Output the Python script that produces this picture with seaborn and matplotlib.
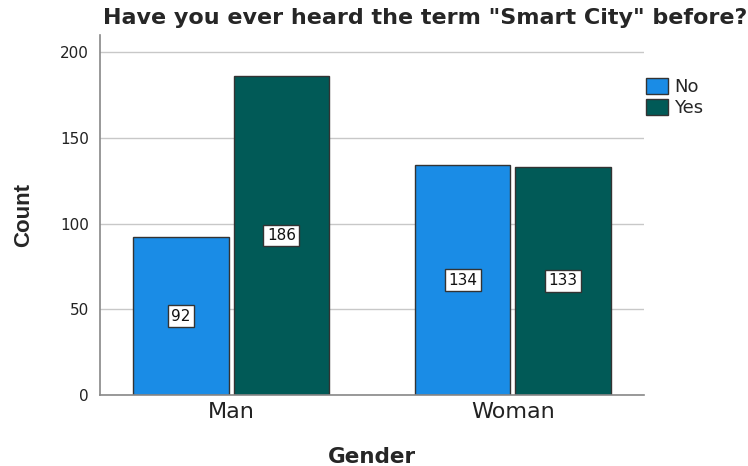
import seaborn as sns
import matplotlib.pyplot as plt
import pandas as pd

genders = ['Man', 'Man', 'Woman', 'Woman']
answers = ['No', 'Yes', 'No', 'Yes']
counts = [92, 186, 134, 133]

df = pd.DataFrame({'Gender': genders, 'Answer': answers, 'Count': counts})

sns.set_style('white')
plt.rcParams['font.family'] = ['DejaVu Sans']

fig = plt.figure(figsize=(7.48, 4.66), dpi=100)
ax = fig.add_axes([0.1337, 0.1524, 0.7273, 0.7725])

palette = {'No': '#1a8ce6', 'Yes': '#015a57'}
sns.barplot(data=df, x='Gender', y='Count', hue='Answer', palette=palette,
            width=0.713, gap=0.05, edgecolor='#333333', linewidth=1,
            saturation=1, ax=ax, legend=True)

ax.set_xlim(-0.465, 1.465)
ax.set_ylim(0, 210)
ax.set_yticks([0, 50, 100, 150, 200])
ax.yaxis.grid(True, color='#c8c8c8', linewidth=1)
ax.set_axisbelow(True)
for side in ['top', 'right']:
    ax.spines[side].set_visible(False)
for side in ['left', 'bottom']:
    ax.spines[side].set_color('#888888')
    ax.spines[side].set_linewidth(1.2)
ax.tick_params(axis='y', length=0, labelsize=11, labelcolor='#222222', pad=8)
ax.tick_params(axis='x', length=0, labelsize=16, labelcolor='#222222', pad=5)

ax.set_xlabel('Gender', fontsize=15.5, fontweight='bold', labelpad=18)
ax.set_ylabel('Count', fontsize=16, fontweight='bold', labelpad=19,
              family=['Liberation Sans'])

for cont in ax.containers:
    for bar in cont:
        h = bar.get_height()
        ax.text(bar.get_x() + bar.get_width() / 2, h / 2, f'{int(h)}',
                ha='center', va='center', fontsize=11, color='#111111',
                bbox=dict(boxstyle='square,pad=0.22', facecolor='white',
                          edgecolor='#333333', linewidth=1))

leg = ax.legend(loc='upper left', bbox_to_anchor=(1.0, 0.885), frameon=False,
                fontsize=13, handlelength=1.25, handleheight=1.0,
                handletextpad=0.3, labelspacing=0.15, borderaxespad=0.1,
                borderpad=0)

fig.text(0.568, 0.962, 'Have you ever heard the term "Smart City" before?',
         ha='center', va='center', fontsize=16, fontweight='bold')

fig.savefig('out.png', dpi=100)
